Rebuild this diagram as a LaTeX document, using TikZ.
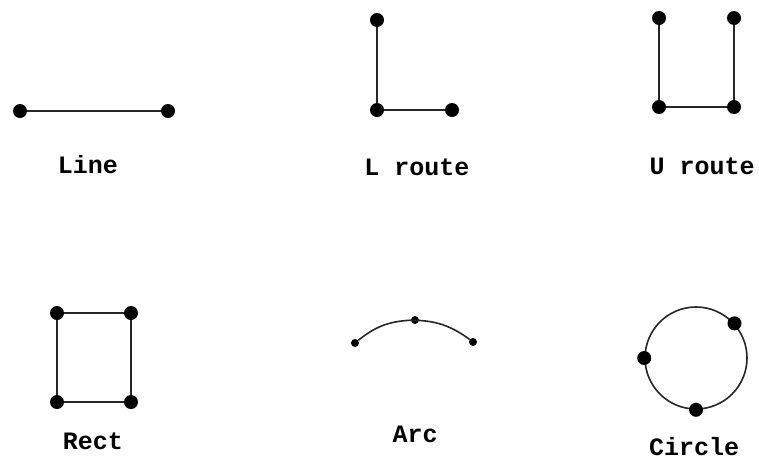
\documentclass[tikz,border=0pt]{standalone}
\usepackage{fontspec}
\setmonofont{Liberation Mono}
\usepackage{tikz}
\usetikzlibrary{positioning}

\begin{document}
\begin{tikzpicture}[
  x=1pt, y=-1pt,
  dot/.style={circle, fill=black, inner sep=0pt, minimum size=14pt},
  sdot/.style={circle, fill=black, inner sep=0pt, minimum size=8pt},
  wire/.style={draw=black!85, line width=1.6pt},
  lbl/.style={font=\ttfamily\bfseries\fontsize{25}{29}\selectfont, inner sep=0pt}
]
\useasboundingbox (0,0) rectangle (759,461);

% line
\node[dot] (la) at (20,111) {};
\node[dot] (lb) at (168,111) {};
\node[lbl] (tline) at (88,165) {Line};
\draw[wire] (la) -- (lb);

% L route
\node[dot] (ra) at (377,20) {};
\node[dot] (rb) at (377,110) {};
\node[dot] (rc) at (452,110) {};
\node[lbl] (troute) at (417,167) {L route};
\draw[wire] (ra) -- (rb) -- (rc);

% U route
\node[dot] (ua) at (659,18) {};
\node[dot] (ub) at (659,107) {};
\node[dot] (uc) at (734,107) {};
\node[dot] (ud) at (734,18) {};
\node[lbl] (uroute) at (702,166) {U route};
\draw[wire] (ua) -- (ub) -- (uc) -- (ud);

% rect
\node[dot] (qa) at (57,313) {};
\node[dot] (qb) at (131,313) {};
\node[dot] (qc) at (131,402) {};
\node[dot] (qd) at (57,402) {};
\node[lbl] (trect) at (93,441) {Rect};
\draw[wire] (qa) -- (qb) -- (qc) -- (qd) -- (qa);

% arc
\node[sdot] (aa) at (355,343) {};
\node[sdot] (ab) at (415,320) {};
\node[sdot] (ac) at (473,342) {};
\node[lbl] (tarc) at (415,434) {Arc};
\draw[wire] (aa) to[bend left=18] (ab) to[bend left=18] (ac);

% circle
\node[circle, draw=black!85, line width=1.6pt, minimum size=102pt, inner sep=0pt] (ring) at (696,358) {};
\node[dot] (ca) at (ring.42) {};
\node[dot] (cb) at (ring.180) {};
\node[dot] (cc) at (ring.270) {};
\node[lbl] (tcircle) at (694,447) {Circle};
\end{tikzpicture}
\end{document}
